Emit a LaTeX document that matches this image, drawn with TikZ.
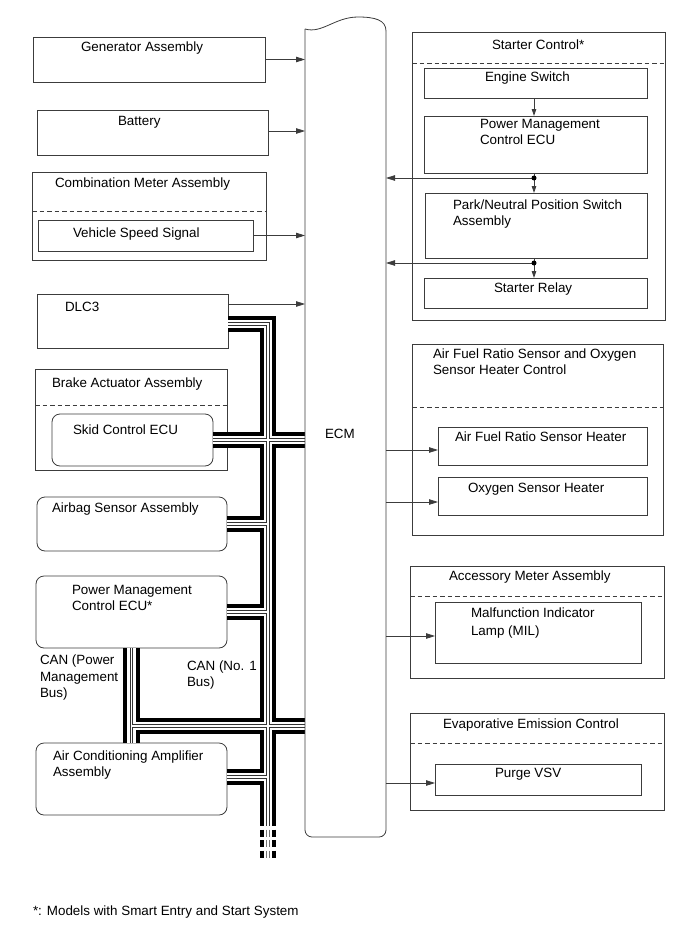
\documentclass[tikz,border=0pt]{standalone}
\usepackage{fontspec}
\setmainfont{Liberation Sans}
\usetikzlibrary{arrows.meta}
\definecolor{linec}{RGB}{60,60,60}
\begin{document}
\begin{tikzpicture}[x=1pt,y=-1pt,
  every node/.style={font=\fontsize{13.4pt}{16.5pt}\selectfont, inner sep=0pt, outer sep=0pt},
  lbl/.style={anchor=base west, align=left},
  box/.style={draw=linec, line width=0.8pt},
  rbox/.style={box, rounded corners=8pt},
  dsh/.style={draw=linec, line width=0.8pt, dash pattern=on 4.5pt off 3pt},
  ln/.style={draw=linec, line width=0.8pt},
  arr/.style={ln, -{Triangle[length=9pt,width=5.5pt]}},
  sarr/.style={ln, -{Triangle[length=7pt,width=4.5pt]}},
  busA/.style={line width=16.5pt, black, line join=miter},
  busB/.style={line width=8.5pt, white, line join=miter},
  busC/.style={line width=3.4pt, black!80, line join=miter},
  busD/.style={line width=1.4pt, white, line join=miter},
  busdash/.style={dash pattern=on 7pt off 3.5pt, dash phase=7pt}
]
\useasboundingbox (0,0) rectangle (690,950);

% ---------- ECM (invisible frame node) ----------
\node[minimum width=81pt, minimum height=808pt] (ecm) at (345.5,433) {};

% ---------- left boxes ----------
\node[box, minimum width=232pt, minimum height=45pt] (gen) at (149,59.5) {};
\node[box, minimum width=231pt, minimum height=45pt] (bat) at (152.5,132.5) {};
\node[box, minimum width=234pt, minimum height=88pt] (comb) at (149,216) {};
\node[box, minimum width=215pt, minimum height=31pt] (vss) at (145.5,235.5) {};
\node[box, minimum width=191pt, minimum height=54pt] (dlc) at (132.5,321) {};
\node[box, minimum width=192pt, minimum height=101pt] (brake) at (131,419.5) {};
\node[rbox, minimum width=161pt, minimum height=52pt] (skid) at (132.5,440) {};
\node[rbox, minimum width=190pt, minimum height=54pt] (airbag) at (132,524) {};
\node[rbox, minimum width=191pt, minimum height=72pt] (pmcl) at (131.5,612) {};
\node[rbox, minimum width=191pt, minimum height=72pt] (ac) at (131.5,779) {};

\draw[dsh] ([yshift=-39pt]comb.north west) -- ([yshift=-39pt]comb.north east);
\draw[dsh] ([yshift=-36pt]brake.north west) -- ([yshift=-36pt]brake.north east);

% ---------- right boxes ----------
\node[box, minimum width=253pt, minimum height=288pt] (starter) at (538.5,176) {};
\node[box, minimum width=223pt, minimum height=30pt] (eng) at (535.5,83) {};
\node[box, minimum width=223pt, minimum height=57pt] (pmcr) at (535.5,144.5) {};
\node[box, minimum width=222pt, minimum height=65pt] (pns) at (536,225.5) {};
\node[box, minimum width=223pt, minimum height=30pt] (relay) at (535.5,293) {};
\node[box, minimum width=251pt, minimum height=191pt] (afr) at (537.5,439.5) {};
\node[box, minimum width=209pt, minimum height=38pt] (afrh) at (542.5,446) {};
\node[box, minimum width=209pt, minimum height=38pt] (o2h) at (542.5,496) {};
\node[box, minimum width=254pt, minimum height=112pt] (acc) at (537,622) {};
\node[box, minimum width=206pt, minimum height=61pt] (mil) at (538,632.5) {};
\node[box, minimum width=254pt, minimum height=97pt] (evap) at (537,761.5) {};
\node[box, minimum width=206pt, minimum height=31pt] (purge) at (538,779.5) {};

\draw[dsh] ([yshift=-31pt]starter.north west) -- ([yshift=-31pt]starter.north east);
\draw[dsh] ([yshift=-63pt]afr.north west) -- ([yshift=-63pt]afr.north east);
\draw[dsh] ([yshift=-30pt]acc.north west) -- ([yshift=-30pt]acc.north east);
\draw[dsh] ([yshift=-30pt]evap.north west) -- ([yshift=-30pt]evap.north east);

% ---------- CAN bus coordinates ----------
\coordinate (dlcB) at ([yshift=-3pt]dlc.east);
\coordinate (vtop) at (268,324);
\coordinate (vbot) at (268,826);
\coordinate (vdash) at (268,857.5);
\coordinate (acB) at ([yshift=2pt]ac.east);
\coordinate (pmJ) at (131.5,726);

\newcommand{\drawbuslayer}[1]{%
  \draw[#1] (dlcB) -- (vtop) -- (vbot);
  \draw[#1] (skid.east) -- (skid.east -| ecm.west);
  \draw[#1] (airbag.east) -- (airbag.east -| vtop);
  \draw[#1] (pmcl.east) -- (pmcl.east -| vtop);
  \draw[#1] (acB) -- (acB -| vtop);
  \draw[#1] (pmcl.south) -- (ac.north);
  \draw[#1] (pmJ) -- (pmJ -| ecm.west);
}
\drawbuslayer{busA}
\drawbuslayer{busB}
\drawbuslayer{busC}
\drawbuslayer{busD}

% dashed continuation
\draw[busdash, line width=4pt, black] ([xshift=-6.25pt]vbot) -- ([xshift=-6.25pt]vdash);
\draw[busdash, line width=4pt, black] ([xshift=6.25pt]vbot) -- ([xshift=6.25pt]vdash);
\draw[busdash, line width=1pt, black!55] ([xshift=-1.2pt]vbot) -- ([xshift=-1.2pt]vdash);
\draw[busdash, line width=1pt, black!55] ([xshift=1.2pt]vbot) -- ([xshift=1.2pt]vdash);

% ---------- ECM outline ----------
\draw[ln, rounded corners=7pt] (ecm.north west) -- (ecm.south west) -- (ecm.south east) -- ([yshift=-2pt]ecm.north east);
\draw[ln] (ecm.north west) .. controls (322,34) and (335,17) .. (358,17)
          .. controls (375,17) and (386,20) .. ([yshift=-2pt]ecm.north east);
\node (ecmlbl) [lbl] at (325,438.8) {ECM};

% ---------- arrows left side ----------
\draw[arr] (gen.east) -- (gen.east -| ecm.west);
\coordinate (batA) at ([yshift=1.5pt]bat.east);
\draw[arr] (batA) -- (batA -| ecm.west);
\draw[arr] (vss.east) -- (vss.east -| ecm.west);
\coordinate (dlcA) at ([yshift=-10pt]dlc.north east);
\draw[arr] (dlcA) -- (dlcA -| ecm.west);

% ---------- starter control arrows ----------
\coordinate (d1) at (534,178);
\coordinate (d2) at (534,263);
\draw[sarr] (eng.south -| d1) -- (pmcr.north -| d1);
\draw[ln] (pmcr.south -| d1) -- (d1);
\draw[sarr] (d1) -- (pns.north -| d1);
\draw[arr] (d1) -- (d1 -| ecm.east);
\draw[ln] (pns.south -| d2) -- (d2);
\draw[sarr] (d2) -- (relay.north -| d2);
\draw[arr] (d2) -- (d2 -| ecm.east);
\fill[black] (d1) circle (2.5pt);
\fill[black] (d2) circle (2.5pt);

% ---------- arrows right side ----------
\coordinate (afrA) at ([yshift=-4pt]afrh.west);
\draw[arr] (afrA -| ecm.east) -- (afrA);
\coordinate (o2A) at ([yshift=-6pt]o2h.west);
\draw[arr] (o2A -| ecm.east) -- (o2A);
\coordinate (milA) at ([yshift=-3.5pt]mil.west);
\draw[arr] (milA -| ecm.east) -- (milA);
\coordinate (purA) at ([yshift=-3.5pt]purge.west);
\draw[arr] (purA -| ecm.east) -- (purA);

% ---------- labels (base = baseline of last line) ----------
\node (t1) [lbl] at (81,51.8) {Generator Assembly};
\node (t2) [lbl] at (118,125.8) {Battery};
\node (t3) [lbl] at (55,187.8) {Combination Meter Assembly};
\node (t4) [lbl] at (73,237.8) {Vehicle Speed Signal};
\node (t5) [lbl] at (65,311.8) {DLC3};
\node (t6) [lbl] at (52,387.8) {Brake Actuator Assembly};
\node (t7) [lbl] at (73,434.8) {Skid Control ECU};
\node (t8) [lbl] at (52,512.8) {Airbag Sensor Assembly};
\node (t9) [lbl] at (72,610.8) {Power Management\\Control ECU*};
\node (t10) [lbl] at (53,776.8) {Air Conditioning Amplifier\\Assembly};
\node (t11) [lbl] at (40,697.8) {CAN (Power\\Management\\Bus)};
\node (t12) [lbl] at (187,686.8) {CAN (No. 1\\Bus)};

\node (t13) [lbl] at (492,49.8) {Starter Control*};
\node (t14) [lbl] at (485,81.8) {Engine Switch};
\node (t15) [lbl] at (480,144.8) {Power Management\\Control ECU};
\node (t16) [lbl] at (453,225.8) {Park/Neutral Position Switch\\Assembly};
\node (t17) [lbl] at (494,292.8) {Starter Relay};
\node (t18) [lbl] at (433,374.8) {Air Fuel Ratio Sensor and Oxygen\\Sensor Heater Control};
\node (t19) [lbl] at (455,441.8) {Air Fuel Ratio Sensor Heater};
\node (t20) [lbl] at (468,492.8) {Oxygen Sensor Heater};
\node (t21) [lbl] at (449,580.8) {Accessory Meter Assembly};
\node (t22) [lbl] at (471,635.8) {Malfunction Indicator\\[1.5pt]Lamp (MIL)};
\node (t23) [lbl] at (443,728.8) {Evaporative Emission Control};
\node (t24) [lbl] at (495,777.8) {Purge VSV};

\node (foot) [lbl] at (33,915.8) {*: Models with Smart Entry and Start System};
\end{tikzpicture}
\end{document}
